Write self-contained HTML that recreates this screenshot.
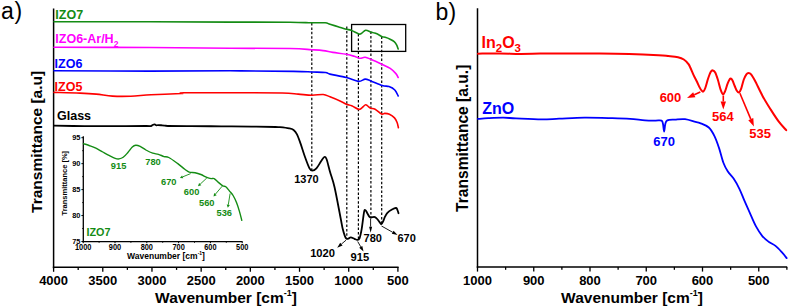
<!DOCTYPE html>
<html><head><meta charset="utf-8"><style>
html,body{margin:0;padding:0;background:#fff;}
svg{display:block;}
text{font-family:"Liberation Sans",sans-serif;}
</style></head><body>
<svg width="789" height="308" viewBox="0 0 789 308">
<line x1="53.60" y1="8.50" x2="53.60" y2="268.20" stroke="#000000" stroke-width="1.5" />
<line x1="52.85" y1="267.25" x2="398.60" y2="267.25" stroke="#000000" stroke-width="1.5" />
<line x1="53.60" y1="267.00" x2="53.60" y2="271.80" stroke="#000000" stroke-width="1.3" />
<text x="53.60" y="285.00" font-size="13" fill="#000000" text-anchor="middle" font-weight="bold" >4000</text>
<line x1="102.78" y1="267.00" x2="102.78" y2="271.80" stroke="#000000" stroke-width="1.3" />
<text x="102.78" y="285.00" font-size="13" fill="#000000" text-anchor="middle" font-weight="bold" >3500</text>
<line x1="151.97" y1="267.00" x2="151.97" y2="271.80" stroke="#000000" stroke-width="1.3" />
<text x="151.97" y="285.00" font-size="13" fill="#000000" text-anchor="middle" font-weight="bold" >3000</text>
<line x1="201.16" y1="267.00" x2="201.16" y2="271.80" stroke="#000000" stroke-width="1.3" />
<text x="201.16" y="285.00" font-size="13" fill="#000000" text-anchor="middle" font-weight="bold" >2500</text>
<line x1="250.34" y1="267.00" x2="250.34" y2="271.80" stroke="#000000" stroke-width="1.3" />
<text x="250.34" y="285.00" font-size="13" fill="#000000" text-anchor="middle" font-weight="bold" >2000</text>
<line x1="299.53" y1="267.00" x2="299.53" y2="271.80" stroke="#000000" stroke-width="1.3" />
<text x="299.53" y="285.00" font-size="13" fill="#000000" text-anchor="middle" font-weight="bold" >1500</text>
<line x1="348.71" y1="267.00" x2="348.71" y2="271.80" stroke="#000000" stroke-width="1.3" />
<text x="348.71" y="285.00" font-size="13" fill="#000000" text-anchor="middle" font-weight="bold" >1000</text>
<line x1="397.90" y1="267.00" x2="397.90" y2="271.80" stroke="#000000" stroke-width="1.3" />
<text x="397.90" y="285.00" font-size="13" fill="#000000" text-anchor="middle" font-weight="bold" >500</text>
<line x1="78.19" y1="267.00" x2="78.19" y2="269.90" stroke="#000000" stroke-width="1.3" />
<line x1="127.38" y1="267.00" x2="127.38" y2="269.90" stroke="#000000" stroke-width="1.3" />
<line x1="176.56" y1="267.00" x2="176.56" y2="269.90" stroke="#000000" stroke-width="1.3" />
<line x1="225.75" y1="267.00" x2="225.75" y2="269.90" stroke="#000000" stroke-width="1.3" />
<line x1="274.93" y1="267.00" x2="274.93" y2="269.90" stroke="#000000" stroke-width="1.3" />
<line x1="324.12" y1="267.00" x2="324.12" y2="269.90" stroke="#000000" stroke-width="1.3" />
<line x1="373.30" y1="267.00" x2="373.30" y2="269.90" stroke="#000000" stroke-width="1.3" />
<text x="226.00" y="303.30" font-size="15.5" fill="#000000" text-anchor="middle" font-weight="bold" >Wavenumber [cm<tspan font-size="9" dy="-7">-1</tspan><tspan dy="7">]</tspan></text>
<text x="0.00" y="0.00" font-size="15.5" fill="#000000" text-anchor="middle" font-weight="bold" transform="translate(42.2,141.9) rotate(-90)">Transmittance [a.u]</text>
<text x="1.00" y="18.90" font-size="23" fill="#000000" text-anchor="start" font-weight="normal" >a</text>
<text x="14.60" y="19.00" font-size="23" fill="#000000" text-anchor="start" font-weight="normal" >)</text>
<line x1="311.80" y1="23.00" x2="311.80" y2="170.00" stroke="#000000" stroke-width="1.2" stroke-dasharray="2.5 1.9"/>
<line x1="346.80" y1="26.50" x2="346.80" y2="238.50" stroke="#000000" stroke-width="1.2" stroke-dasharray="2.5 1.9"/>
<line x1="358.40" y1="34.00" x2="358.40" y2="239.50" stroke="#000000" stroke-width="1.2" stroke-dasharray="2.5 1.9"/>
<line x1="370.90" y1="31.50" x2="370.90" y2="217.50" stroke="#000000" stroke-width="1.2" stroke-dasharray="2.5 1.9"/>
<line x1="381.70" y1="36.50" x2="381.70" y2="224.00" stroke="#000000" stroke-width="1.2" stroke-dasharray="2.5 1.9"/>
<rect x="351.6" y="24.5" width="54.1" height="26.9" fill="none" stroke="#000000" stroke-width="1.3"/>
<path d="M54.00,21.80 C70.00,21.80 120.67,21.75 150.00,21.80 C179.33,21.85 206.67,22.03 230.00,22.10 C253.33,22.17 276.43,22.08 290.00,22.20 C303.57,22.32 305.55,22.70 311.40,22.80 C317.25,22.90 322.00,22.55 325.10,22.80 C328.20,23.05 327.83,23.65 330.00,24.30 C332.17,24.95 335.40,25.88 338.10,26.70 C340.80,27.52 344.03,28.60 346.20,29.20 C348.37,29.80 348.98,29.50 351.10,30.30 C353.22,31.10 357.13,33.52 358.90,34.00 C360.67,34.48 360.57,33.82 361.70,33.20 C362.83,32.58 364.22,30.52 365.70,30.30 C367.18,30.08 369.10,31.43 370.60,31.90 C372.10,32.37 373.35,32.63 374.70,33.10 C376.05,33.57 377.43,34.08 378.70,34.70 C379.97,35.32 381.22,36.37 382.30,36.80 C383.38,37.23 383.90,36.90 385.20,37.30 C386.50,37.70 388.60,38.47 390.10,39.20 C391.60,39.93 393.12,40.75 394.20,41.70 C395.28,42.65 395.93,43.68 396.60,44.90 C397.27,46.12 397.93,48.32 398.20,49.00" fill="none" stroke="#148c14" stroke-width="1.6" stroke-linejoin="round" stroke-linecap="round"/>
<path d="M54.00,47.20 C70.00,47.25 120.67,47.33 150.00,47.50 C179.33,47.67 206.67,48.03 230.00,48.20 C253.33,48.37 276.43,48.25 290.00,48.50 C303.57,48.75 305.88,49.35 311.40,49.70 C316.92,50.05 319.52,50.15 323.10,50.60 C326.68,51.05 329.02,51.78 332.90,52.40 C336.78,53.02 342.83,53.65 346.40,54.30 C349.97,54.95 352.30,55.70 354.30,56.30 C356.30,56.90 357.38,57.57 358.40,57.90 C359.42,58.23 359.27,58.40 360.40,58.30 C361.53,58.20 363.45,57.13 365.20,57.30 C366.95,57.47 368.05,58.10 370.90,59.30 C373.75,60.50 379.08,62.98 382.30,64.50 C385.52,66.02 387.93,66.88 390.20,68.40 C392.47,69.92 394.57,72.08 395.90,73.60 C397.23,75.12 397.82,76.85 398.20,77.50" fill="none" stroke="#ff00ff" stroke-width="1.6" stroke-linejoin="round" stroke-linecap="round"/>
<path d="M54.00,70.70 C70.00,70.77 120.67,71.08 150.00,71.10 C179.33,71.12 206.07,70.75 230.00,70.80 C253.93,70.85 279.97,71.20 293.60,71.40 C307.23,71.60 306.48,71.82 311.80,72.00 C317.12,72.18 322.47,72.15 325.50,72.50 C328.53,72.85 326.52,73.27 330.00,74.10 C333.48,74.93 341.67,76.28 346.40,77.50 C351.13,78.72 355.27,81.13 358.40,81.40 C361.53,81.67 363.12,79.18 365.20,79.10 C367.28,79.02 368.05,79.83 370.90,80.90 C373.75,81.97 379.28,84.55 382.30,85.50 C385.32,86.45 386.92,85.85 389.00,86.60 C391.08,87.35 393.27,88.43 394.80,90.00 C396.33,91.57 397.63,95.00 398.20,96.00" fill="none" stroke="#0000ff" stroke-width="1.6" stroke-linejoin="round" stroke-linecap="round"/>
<path d="M54.00,92.40 C58.33,92.52 72.97,92.82 80.00,93.10 C87.03,93.38 90.78,93.60 96.20,94.10 C101.62,94.60 106.75,95.75 112.50,96.10 C118.25,96.45 124.28,96.42 130.70,96.20 C137.12,95.98 142.55,95.25 151.00,94.80 C159.45,94.35 175.90,93.83 181.40,93.50 C186.90,93.17 174.23,92.92 184.00,92.80 C193.77,92.68 223.62,92.77 240.00,92.80 C256.38,92.83 272.60,92.78 282.30,93.00 C292.00,93.22 293.28,93.73 298.20,94.10 C303.12,94.47 307.63,95.13 311.80,95.20 C315.97,95.27 320.17,94.23 323.20,94.50 C326.23,94.77 327.20,95.72 330.00,96.80 C332.80,97.88 337.25,99.75 340.00,101.00 C342.75,102.25 344.55,103.50 346.50,104.30 C348.45,105.10 349.75,104.98 351.70,105.80 C353.65,106.62 356.68,108.70 358.20,109.20 C359.72,109.70 359.62,109.52 360.80,108.80 C361.98,108.08 364.22,105.43 365.30,104.90 C366.38,104.37 366.43,105.05 367.30,105.60 C368.17,106.15 369.20,107.60 370.50,108.20 C371.80,108.80 373.25,108.23 375.10,109.20 C376.95,110.17 379.98,113.30 381.60,114.00 C383.22,114.70 383.50,113.35 384.80,113.40 C386.10,113.45 387.78,113.55 389.40,114.30 C391.02,115.05 393.22,116.53 394.50,117.90 C395.78,119.27 396.45,120.87 397.10,122.50 C397.75,124.13 398.18,126.83 398.40,127.70" fill="none" stroke="#ff0000" stroke-width="1.6" stroke-linejoin="round" stroke-linecap="round"/>
<path d="M54.00,125.70 C59.07,125.77 74.27,126.02 84.40,126.10 C94.53,126.18 104.65,126.22 114.80,126.20 C124.95,126.18 139.28,126.03 145.30,126.00 C151.32,125.97 149.70,126.17 150.90,126.00 C152.10,125.83 151.87,125.27 152.50,125.00 C153.13,124.73 154.03,124.35 154.70,124.40 C155.37,124.45 155.95,125.18 156.50,125.30 C157.05,125.42 157.08,125.10 158.00,125.10 C158.92,125.10 160.67,125.22 162.00,125.30 C163.33,125.38 165.00,125.48 166.00,125.60 C167.00,125.72 163.85,125.90 168.00,126.00 C172.15,126.10 182.02,126.15 190.90,126.20 C199.78,126.25 211.17,126.23 221.30,126.30 C231.43,126.37 242.67,126.48 251.70,126.60 C260.73,126.72 270.78,126.90 275.50,127.00 C280.22,127.10 277.73,126.97 280.00,127.20 C282.27,127.43 286.83,127.93 289.10,128.40 C291.37,128.87 292.28,129.02 293.60,130.00 C294.92,130.98 295.85,132.07 297.00,134.30 C298.15,136.53 299.17,139.62 300.50,143.40 C301.83,147.18 303.50,152.83 305.00,157.00 C306.50,161.17 308.28,166.12 309.50,168.40 C310.72,170.68 311.15,170.70 312.30,170.70 C313.45,170.70 314.97,169.92 316.40,168.40 C317.83,166.88 319.58,163.50 320.90,161.60 C322.22,159.70 323.35,157.38 324.30,157.00 C325.25,156.62 325.65,156.83 326.60,159.30 C327.55,161.77 328.68,167.18 330.00,171.80 C331.32,176.42 332.73,179.30 334.50,187.00 C336.27,194.70 339.23,211.03 340.60,218.00 C341.97,224.97 341.98,225.78 342.70,228.80 C343.42,231.82 344.27,234.43 344.90,236.10 C345.53,237.77 345.90,238.38 346.50,238.80 C347.10,239.22 347.78,238.83 348.50,238.60 C349.22,238.37 349.82,237.37 350.80,237.40 C351.78,237.43 353.32,238.38 354.40,238.80 C355.48,239.22 356.45,239.98 357.30,239.90 C358.15,239.82 358.77,240.15 359.50,238.30 C360.23,236.45 360.93,233.20 361.70,228.80 C362.47,224.40 363.45,214.98 364.10,211.90 C364.75,208.82 365.07,210.08 365.60,210.30 C366.13,210.52 366.68,212.13 367.30,213.20 C367.92,214.27 368.75,215.98 369.30,216.70 C369.85,217.42 370.05,217.43 370.60,217.50 C371.15,217.57 371.88,217.17 372.60,217.10 C373.32,217.03 374.13,216.78 374.90,217.10 C375.67,217.42 376.42,218.17 377.20,219.00 C377.98,219.83 378.92,221.25 379.60,222.10 C380.28,222.95 380.72,224.22 381.30,224.10 C381.88,223.98 382.48,222.63 383.10,221.40 C383.72,220.17 384.28,218.13 385.00,216.70 C385.72,215.27 386.23,214.00 387.40,212.80 C388.57,211.60 390.58,210.30 392.00,209.50 C393.42,208.70 395.03,208.03 395.90,208.00 C396.77,207.97 396.77,208.43 397.20,209.30 C397.63,210.17 398.28,212.55 398.50,213.20" fill="none" stroke="#000000" stroke-width="1.8" stroke-linejoin="round" stroke-linecap="round"/>
<text x="55.30" y="18.70" font-size="12.5" fill="#148c14" text-anchor="start" font-weight="bold" >IZO7</text>
<text x="55.30" y="42.80" font-size="12.5" fill="#ff00ff" text-anchor="start" font-weight="bold" >IZO6-Ar/H<tspan font-size="8.5" dy="4">2</tspan></text>
<text x="54.60" y="67.50" font-size="12.5" fill="#0000ff" text-anchor="start" font-weight="bold" >IZO6</text>
<text x="54.60" y="91.10" font-size="12.5" fill="#ff0000" text-anchor="start" font-weight="bold" >IZO5</text>
<text x="57.00" y="120.30" font-size="12.5" fill="#000000" text-anchor="start" font-weight="bold" >Glass</text>
<text x="306.50" y="183.20" font-size="11" fill="#000000" text-anchor="middle" font-weight="bold" >1370</text>
<line x1="346.00" y1="240.20" x2="341.39" y2="244.13" stroke="#000000" stroke-width="0.9" /><polygon points="337.20,247.70 340.22,242.76 342.55,245.50" fill="#000000"/>
<text x="322.60" y="256.60" font-size="11.2" fill="#000000" text-anchor="middle" font-weight="bold" >1020</text>
<line x1="357.70" y1="241.50" x2="360.76" y2="246.83" stroke="#000000" stroke-width="0.9" /><polygon points="363.50,251.60 359.20,247.73 362.32,245.93" fill="#000000"/>
<text x="359.90" y="261.40" font-size="11.2" fill="#000000" text-anchor="middle" font-weight="bold" >915</text>
<line x1="370.60" y1="218.60" x2="370.60" y2="226.70" stroke="#000000" stroke-width="0.9" /><polygon points="370.60,232.70 369.10,226.70 372.10,226.70" fill="#000000"/>
<text x="372.80" y="241.60" font-size="11" fill="#000000" text-anchor="middle" font-weight="bold" >780</text>
<line x1="381.50" y1="226.00" x2="392.71" y2="232.30" stroke="#000000" stroke-width="0.9" /><polygon points="397.50,235.00 391.82,233.87 393.59,230.73" fill="#000000"/>
<text x="406.60" y="242.20" font-size="11" fill="#000000" text-anchor="middle" font-weight="bold" >670</text>
<line x1="83.30" y1="136.20" x2="83.30" y2="242.30" stroke="#000000" stroke-width="1.3" />
<line x1="82.70" y1="241.60" x2="242.60" y2="241.60" stroke="#000000" stroke-width="1.4" />
<line x1="81.40" y1="137.70" x2="83.30" y2="137.70" stroke="#000000" stroke-width="1.0" />
<text x="0.00" y="0.00" font-size="7.4" fill="#000000" text-anchor="end" font-weight="bold" transform="translate(80.4,139.80) scale(1,1.05)">95</text>
<line x1="81.40" y1="163.65" x2="83.30" y2="163.65" stroke="#000000" stroke-width="1.0" />
<text x="0.00" y="0.00" font-size="7.4" fill="#000000" text-anchor="end" font-weight="bold" transform="translate(80.4,165.75) scale(1,1.05)">90</text>
<line x1="81.40" y1="189.60" x2="83.30" y2="189.60" stroke="#000000" stroke-width="1.0" />
<text x="0.00" y="0.00" font-size="7.4" fill="#000000" text-anchor="end" font-weight="bold" transform="translate(80.4,191.70) scale(1,1.05)">85</text>
<line x1="81.40" y1="215.55" x2="83.30" y2="215.55" stroke="#000000" stroke-width="1.0" />
<text x="0.00" y="0.00" font-size="7.4" fill="#000000" text-anchor="end" font-weight="bold" transform="translate(80.4,217.65) scale(1,1.05)">80</text>
<line x1="81.40" y1="241.50" x2="83.30" y2="241.50" stroke="#000000" stroke-width="1.0" />
<text x="0.00" y="0.00" font-size="7.4" fill="#000000" text-anchor="end" font-weight="bold" transform="translate(80.4,243.60) scale(1,1.05)">75</text>
<line x1="82.20" y1="150.68" x2="83.30" y2="150.68" stroke="#000000" stroke-width="0.9" />
<line x1="82.20" y1="176.62" x2="83.30" y2="176.62" stroke="#000000" stroke-width="0.9" />
<line x1="82.20" y1="202.57" x2="83.30" y2="202.57" stroke="#000000" stroke-width="0.9" />
<line x1="82.20" y1="228.53" x2="83.30" y2="228.53" stroke="#000000" stroke-width="0.9" />
<line x1="83.20" y1="241.60" x2="83.20" y2="243.20" stroke="#000000" stroke-width="1.0" />
<text x="0.00" y="0.00" font-size="7.4" fill="#000000" text-anchor="middle" font-weight="bold" transform="translate(83.20,250) scale(1,1.22)">1000</text>
<line x1="115.00" y1="241.60" x2="115.00" y2="243.20" stroke="#000000" stroke-width="1.0" />
<text x="0.00" y="0.00" font-size="7.4" fill="#000000" text-anchor="middle" font-weight="bold" transform="translate(115.00,250) scale(1,1.22)">900</text>
<line x1="146.80" y1="241.60" x2="146.80" y2="243.20" stroke="#000000" stroke-width="1.0" />
<text x="0.00" y="0.00" font-size="7.4" fill="#000000" text-anchor="middle" font-weight="bold" transform="translate(146.80,250) scale(1,1.22)">800</text>
<line x1="178.60" y1="241.60" x2="178.60" y2="243.20" stroke="#000000" stroke-width="1.0" />
<text x="0.00" y="0.00" font-size="7.4" fill="#000000" text-anchor="middle" font-weight="bold" transform="translate(178.60,250) scale(1,1.22)">700</text>
<line x1="210.40" y1="241.60" x2="210.40" y2="243.20" stroke="#000000" stroke-width="1.0" />
<text x="0.00" y="0.00" font-size="7.4" fill="#000000" text-anchor="middle" font-weight="bold" transform="translate(210.40,250) scale(1,1.22)">600</text>
<line x1="242.20" y1="241.60" x2="242.20" y2="243.20" stroke="#000000" stroke-width="1.0" />
<text x="0.00" y="0.00" font-size="7.4" fill="#000000" text-anchor="middle" font-weight="bold" transform="translate(242.20,250) scale(1,1.22)">500</text>
<line x1="99.10" y1="241.60" x2="99.10" y2="242.80" stroke="#000000" stroke-width="0.9" />
<line x1="130.90" y1="241.60" x2="130.90" y2="242.80" stroke="#000000" stroke-width="0.9" />
<line x1="162.70" y1="241.60" x2="162.70" y2="242.80" stroke="#000000" stroke-width="0.9" />
<line x1="194.50" y1="241.60" x2="194.50" y2="242.80" stroke="#000000" stroke-width="0.9" />
<line x1="226.30" y1="241.60" x2="226.30" y2="242.80" stroke="#000000" stroke-width="0.9" />
<text x="166.00" y="258.80" font-size="8.5" fill="#000000" text-anchor="middle" font-weight="bold" >Wavenumber [cm<tspan font-size="5" dy="-4">-1</tspan><tspan dy="4">]</tspan></text>
<text x="0.00" y="0.00" font-size="7.5" fill="#000000" text-anchor="middle" font-weight="bold" transform="translate(67,183.2) rotate(-90)">Transmittance [%]</text>
<path d="M83.40,143.60 C84.35,143.92 87.02,144.73 89.10,145.50 C91.18,146.27 93.63,147.12 95.90,148.20 C98.17,149.28 100.43,150.75 102.70,152.00 C104.97,153.25 107.42,154.63 109.50,155.70 C111.58,156.77 113.60,157.87 115.20,158.40 C116.80,158.93 117.77,159.08 119.10,158.90 C120.43,158.72 121.77,158.33 123.20,157.30 C124.63,156.27 126.18,154.42 127.70,152.70 C129.22,150.98 130.97,148.25 132.30,147.00 C133.63,145.75 134.38,145.30 135.70,145.20 C137.02,145.10 138.50,145.60 140.20,146.40 C141.90,147.20 143.82,148.87 145.90,150.00 C147.98,151.13 150.62,152.48 152.70,153.20 C154.78,153.92 156.50,153.73 158.40,154.30 C160.30,154.87 162.37,156.07 164.10,156.60 C165.83,157.13 166.57,156.37 168.80,157.50 C171.03,158.63 174.83,161.45 177.50,163.40 C180.17,165.35 182.85,167.75 184.80,169.20 C186.75,170.65 187.48,171.52 189.20,172.10 C190.92,172.68 193.15,172.30 195.10,172.70 C197.05,173.10 198.95,173.72 200.90,174.50 C202.85,175.28 205.10,176.72 206.80,177.40 C208.50,178.08 209.88,178.40 211.10,178.60 C212.32,178.80 212.88,177.97 214.10,178.60 C215.32,179.23 216.95,181.18 218.40,182.40 C219.85,183.62 221.57,185.17 222.80,185.90 C224.03,186.63 224.68,185.93 225.80,186.80 C226.92,187.67 228.28,189.65 229.50,191.10 C230.72,192.55 231.92,193.55 233.10,195.50 C234.28,197.45 235.53,200.12 236.60,202.80 C237.67,205.48 238.63,208.67 239.50,211.60 C240.37,214.53 241.42,218.93 241.80,220.40" fill="none" stroke="#148c14" stroke-width="1.4" stroke-linejoin="round" stroke-linecap="round"/>
<text x="86.40" y="235.60" font-size="10.8" fill="#148c14" text-anchor="start" font-weight="bold" >IZO7</text>
<text x="118.60" y="169.10" font-size="9.3" fill="#148c14" text-anchor="middle" font-weight="bold" >915</text>
<text x="153.00" y="165.20" font-size="9.3" fill="#148c14" text-anchor="middle" font-weight="bold" >780</text>
<text x="168.80" y="185.30" font-size="9.3" fill="#148c14" text-anchor="middle" font-weight="bold" >670</text>
<text x="191.60" y="194.90" font-size="9.3" fill="#148c14" text-anchor="middle" font-weight="bold" >600</text>
<text x="206.80" y="205.80" font-size="9.3" fill="#148c14" text-anchor="middle" font-weight="bold" >560</text>
<text x="224.30" y="216.00" font-size="9.3" fill="#148c14" text-anchor="middle" font-weight="bold" >536</text>
<line x1="190.70" y1="173.60" x2="182.68" y2="176.87" stroke="#148c14" stroke-width="0.9" /><polygon points="179.90,178.00 182.07,175.39 183.28,178.35" fill="#148c14"/>
<line x1="206.80" y1="178.00" x2="200.19" y2="184.15" stroke="#148c14" stroke-width="0.9" /><polygon points="198.00,186.20 199.10,182.98 201.29,185.33" fill="#148c14"/>
<line x1="222.20" y1="186.20" x2="215.45" y2="194.12" stroke="#148c14" stroke-width="0.9" /><polygon points="213.50,196.40 214.23,193.08 216.66,195.16" fill="#148c14"/>
<line x1="230.10" y1="193.50" x2="228.28" y2="204.84" stroke="#148c14" stroke-width="0.9" /><polygon points="227.80,207.80 226.70,204.58 229.86,205.09" fill="#148c14"/>
<line x1="477.50" y1="8.20" x2="477.50" y2="267.50" stroke="#000000" stroke-width="1.5" />
<line x1="476.75" y1="266.90" x2="787.20" y2="266.90" stroke="#000000" stroke-width="1.5" />
<line x1="477.50" y1="266.90" x2="477.50" y2="271.60" stroke="#000000" stroke-width="1.3" />
<text x="477.50" y="285.00" font-size="13" fill="#000000" text-anchor="middle" font-weight="bold" >1000</text>
<line x1="533.75" y1="266.90" x2="533.75" y2="271.60" stroke="#000000" stroke-width="1.3" />
<text x="533.75" y="285.00" font-size="13" fill="#000000" text-anchor="middle" font-weight="bold" >900</text>
<line x1="590.00" y1="266.90" x2="590.00" y2="271.60" stroke="#000000" stroke-width="1.3" />
<text x="590.00" y="285.00" font-size="13" fill="#000000" text-anchor="middle" font-weight="bold" >800</text>
<line x1="646.25" y1="266.90" x2="646.25" y2="271.60" stroke="#000000" stroke-width="1.3" />
<text x="646.25" y="285.00" font-size="13" fill="#000000" text-anchor="middle" font-weight="bold" >700</text>
<line x1="702.50" y1="266.90" x2="702.50" y2="271.60" stroke="#000000" stroke-width="1.3" />
<text x="702.50" y="285.00" font-size="13" fill="#000000" text-anchor="middle" font-weight="bold" >600</text>
<line x1="758.75" y1="266.90" x2="758.75" y2="271.60" stroke="#000000" stroke-width="1.3" />
<text x="758.75" y="285.00" font-size="13" fill="#000000" text-anchor="middle" font-weight="bold" >500</text>
<line x1="505.62" y1="266.90" x2="505.62" y2="269.80" stroke="#000000" stroke-width="1.3" />
<line x1="561.88" y1="266.90" x2="561.88" y2="269.80" stroke="#000000" stroke-width="1.3" />
<line x1="618.12" y1="266.90" x2="618.12" y2="269.80" stroke="#000000" stroke-width="1.3" />
<line x1="674.38" y1="266.90" x2="674.38" y2="269.80" stroke="#000000" stroke-width="1.3" />
<line x1="730.62" y1="266.90" x2="730.62" y2="269.80" stroke="#000000" stroke-width="1.3" />
<line x1="786.88" y1="266.90" x2="786.88" y2="269.80" stroke="#000000" stroke-width="1.3" />
<text x="632.00" y="303.30" font-size="15.5" fill="#000000" text-anchor="middle" font-weight="bold" >Wavenumber [cm<tspan font-size="9" dy="-7">-1</tspan><tspan dy="7">]</tspan></text>
<text x="0.00" y="0.00" font-size="15.6" fill="#000000" text-anchor="middle" font-weight="bold" transform="translate(468,138.3) rotate(-90)">Transmittance [a.u.]</text>
<text x="435.40" y="20.40" font-size="23" fill="#000000" text-anchor="start" font-weight="normal" >b</text>
<text x="448.50" y="19.60" font-size="23" fill="#000000" text-anchor="start" font-weight="normal" >)</text>
<path d="M478.00,53.70 C481.67,53.65 493.00,53.37 500.00,53.40 C507.00,53.43 513.33,53.87 520.00,53.90 C526.67,53.93 533.33,53.68 540.00,53.60 C546.67,53.52 553.33,53.40 560.00,53.40 C566.67,53.40 573.33,53.58 580.00,53.60 C586.67,53.62 591.80,53.43 600.00,53.50 C608.20,53.57 619.45,53.72 629.20,54.00 C638.95,54.28 652.00,54.87 658.50,55.20 C665.00,55.53 664.95,55.67 668.20,56.00 C671.45,56.33 675.40,56.62 678.00,57.20 C680.60,57.78 682.02,58.30 683.80,59.50 C685.58,60.70 687.07,61.80 688.70,64.40 C690.33,67.00 692.22,72.20 693.60,75.10 C694.98,78.00 696.00,79.75 697.00,81.80 C698.00,83.85 698.82,85.92 699.60,87.40 C700.38,88.88 701.08,90.02 701.70,90.70 C702.32,91.38 702.70,91.95 703.30,91.50 C703.90,91.05 704.48,90.22 705.30,88.00 C706.12,85.78 707.28,80.92 708.20,78.20 C709.12,75.48 710.02,73.00 710.80,71.70 C711.58,70.40 712.17,70.27 712.90,70.40 C713.63,70.53 714.38,70.98 715.20,72.50 C716.02,74.02 716.88,76.60 717.80,79.50 C718.72,82.40 719.83,87.43 720.70,89.90 C721.57,92.37 722.27,94.08 723.00,94.30 C723.73,94.52 724.32,93.02 725.10,91.20 C725.88,89.38 726.83,85.48 727.70,83.40 C728.57,81.32 729.52,79.22 730.30,78.70 C731.08,78.18 731.67,79.08 732.40,80.30 C733.13,81.52 733.97,84.27 734.70,86.00 C735.43,87.73 736.10,89.62 736.80,90.70 C737.50,91.78 738.17,92.85 738.90,92.50 C739.63,92.15 740.38,90.77 741.20,88.60 C742.02,86.43 742.93,81.88 743.80,79.50 C744.67,77.12 745.62,75.38 746.40,74.30 C747.18,73.22 747.72,73.00 748.50,73.00 C749.28,73.00 750.02,73.00 751.10,74.30 C752.18,75.60 753.05,77.12 755.00,80.80 C756.95,84.48 760.20,91.63 762.80,96.40 C765.40,101.17 768.00,105.28 770.60,109.40 C773.20,113.52 775.80,117.63 778.40,121.10 C781.00,124.57 784.90,128.68 786.20,130.20" fill="none" stroke="#ff0000" stroke-width="2" stroke-linejoin="round" stroke-linecap="round"/>
<path d="M478.00,118.90 C479.68,118.78 483.88,118.40 488.10,118.20 C492.32,118.00 498.65,117.67 503.30,117.70 C507.95,117.73 509.65,118.12 516.00,118.40 C522.35,118.68 534.22,119.35 541.40,119.40 C548.58,119.45 551.92,118.98 559.10,118.70 C566.28,118.42 575.63,117.78 584.50,117.70 C593.37,117.62 604.70,118.00 612.30,118.20 C619.90,118.40 624.65,118.55 630.10,118.90 C635.55,119.25 640.78,120.02 645.00,120.30 C649.22,120.58 652.65,120.55 655.40,120.60 C658.15,120.65 660.23,120.03 661.50,120.60 C662.77,121.17 662.57,122.17 663.00,124.00 C663.43,125.83 663.72,131.60 664.10,131.60 C664.48,131.60 664.77,125.87 665.30,124.00 C665.83,122.13 665.68,121.13 667.30,120.40 C668.92,119.67 672.05,119.80 675.00,119.60 C677.95,119.40 681.58,118.82 685.00,119.20 C688.42,119.58 693.00,121.25 695.50,121.90 C698.00,122.55 697.78,122.17 700.00,123.10 C702.22,124.03 706.37,125.30 708.80,127.50 C711.23,129.70 712.90,132.90 714.60,136.30 C716.30,139.70 717.55,143.53 719.00,147.90 C720.45,152.27 721.85,158.60 723.30,162.50 C724.75,166.40 725.98,168.62 727.70,171.30 C729.42,173.98 731.65,175.68 733.60,178.60 C735.55,181.52 737.62,185.17 739.40,188.80 C741.18,192.43 742.62,196.52 744.30,200.40 C745.98,204.28 747.55,207.77 749.50,212.10 C751.45,216.43 753.83,222.37 756.00,226.40 C758.17,230.43 760.33,233.70 762.50,236.30 C764.67,238.90 766.83,240.40 769.00,242.00 C771.17,243.60 773.33,244.17 775.50,245.90 C777.67,247.63 780.13,250.37 782.00,252.40 C783.87,254.43 785.92,257.15 786.70,258.10" fill="none" stroke="#0000ff" stroke-width="1.8" stroke-linejoin="round" stroke-linecap="round"/>
<text x="481.50" y="48.10" font-size="16" fill="#ff0000" text-anchor="start" font-weight="bold" >In<tspan font-size="11.5" dy="3.8">2</tspan><tspan dy="-3.8">O</tspan><tspan font-size="11.5" dy="3.8">3</tspan></text>
<text x="482.30" y="113.80" font-size="16" fill="#0000ff" text-anchor="start" font-weight="bold" >ZnO</text>
<line x1="700.30" y1="92.00" x2="694.27" y2="94.76" stroke="#ff0000" stroke-width="1.6" /><polygon points="687.00,98.10 693.15,92.31 695.40,97.22" fill="#ff0000"/>
<line x1="723.30" y1="95.50" x2="723.30" y2="101.50" stroke="#ff0000" stroke-width="1.6" /><polygon points="723.30,109.50 720.60,101.50 726.00,101.50" fill="#ff0000"/>
<line x1="739.90" y1="93.30" x2="750.79" y2="119.13" stroke="#ff0000" stroke-width="1.6" /><polygon points="753.90,126.50 748.30,120.18 753.28,118.08" fill="#ff0000"/>
<text x="670.50" y="102.30" font-size="13" fill="#ff0000" text-anchor="middle" font-weight="bold" >600</text>
<text x="722.90" y="121.10" font-size="13" fill="#ff0000" text-anchor="middle" font-weight="bold" >564</text>
<text x="760.20" y="138.20" font-size="13" fill="#ff0000" text-anchor="middle" font-weight="bold" >535</text>
<text x="664.10" y="145.60" font-size="13" fill="#0000ff" text-anchor="middle" font-weight="bold" >670</text>
</svg>
</body></html>
